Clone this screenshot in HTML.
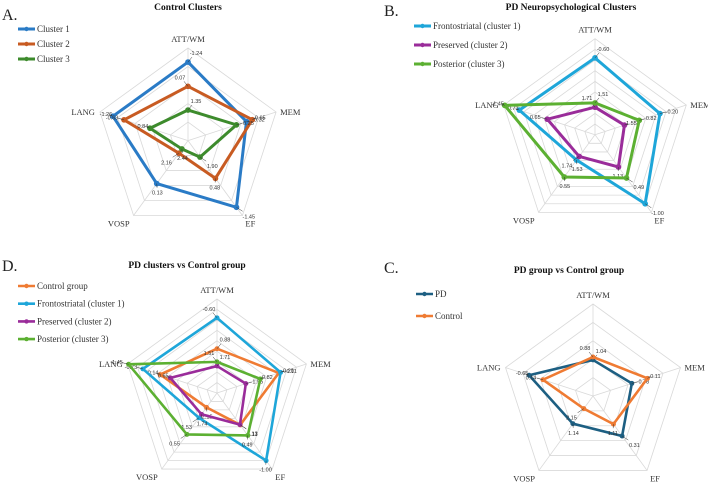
<!DOCTYPE html>
<html><head><meta charset="utf-8">
<style>
html,body{margin:0;padding:0;background:#fff;}
svg{display:block;font-family:"Liberation Serif",serif;}
.val{font-family:"Liberation Sans",sans-serif;font-size:5.5px;fill:#333;}
.ax{font-size:8.5px;fill:#333;}
.ttl{font-size:9.5px;font-weight:bold;fill:#111;}
.pl{font-size:16px;fill:#222;}
.lg{font-size:9px;fill:#333;}
</style></head>
<body>
<svg id="fig" width="708" height="483" viewBox="0 0 708 483">
  <text class="pl" x="2" y="20">A.</text>
  <text class="ttl" x="188" y="10" text-anchor="middle">Control Clusters</text>
  <text class="pl" x="384" y="16">B.</text>
  <text class="ttl" x="571" y="10" text-anchor="middle">PD Neuropsychological Clusters</text>
  <text class="pl" x="2" y="271">D.</text>
  <text class="ttl" x="187" y="268" text-anchor="middle">PD clusters vs Control group</text>
  <text class="pl" x="384" y="273">C.</text>
  <text class="ttl" x="569" y="273" text-anchor="middle">PD group vs Control group</text>
</svg>
<script>
// ---- data ----
const axesLabels = ["ATT/WM","MEM","EF","VOSP","LANG"];
// Panel A
const aNames = ["Cluster 1","Cluster 2","Cluster 3"];
const aCluster1 = [-1.24,-0.32,-1.45,0.13,-1.26];
const aCluster2 = [0.07,-0.65,0.48,2.16,-0.63];
const aCluster3 = [1.35,0.25,1.90,2.44,0.84];
// Panel B
const bNames = ["Frontostriatal (cluster 1)","Preserved (cluster 2)","Posterior (cluster 3)"];
const bFronto = [-0.60,-0.20,-1.00,1.53,-0.73];
const bPreserved = [1.71,1.55,1.13,1.74,0.65];
const bPosterior = [1.51,0.82,0.49,0.55,-1.45];
// Panel D
const dNames = ["Control group","Frontostriatal (cluster 1)","Preserved (cluster 2)","Posterior (cluster 3)"];
const dControl = [0.88,-0.11,1.11,2.15,0.14];
const dFronto = [-0.60,-0.20,-1.00,1.53,-0.73];
const dPreserved = [1.71,1.55,1.13,1.74,0.65];
const dPosterior = [1.51,0.82,0.49,0.55,-1.45];
// Panel C
const cNames = ["PD","Control"];
const cPD = [1.04,0.78,0.31,1.14,-0.65];
const cControl = [0.88,-0.11,1.11,2.15,0.14];

const NS="http://www.w3.org/2000/svg";
const svg=document.getElementById('fig');
function mk(tag,attrs,parent){const e=document.createElementNS(NS,tag);for(const k in attrs)e.setAttribute(k,attrs[k]);(parent||svg).appendChild(e);return e;}

// axis-label offsets relative to the outer vertex: [dx, dy, anchor]
const axOff=[[0,-6,'middle'],[4,3,'start'],[3,11,'start'],[-4,11,'end'],[-5,3,'end']];

function radar(p){
  const g=mk('g',{});
  
  
  const ang=i=>(-90+72*i)*Math.PI/180;
  const rScale=v=>p.R*(p.max-v)/(p.max-p.min);
  const pt=(i,r)=>[p.cx+r*Math.cos(ang(i)),p.cy+r*Math.sin(ang(i))];
  for(let k=1;k<=p.rings;k++){
    const r=p.R*k/p.rings;
    const pts=[0,1,2,3,4].map(i=>pt(i,r).join(',')).join(' ');
    const ring=mk('polygon',{points:pts,fill:'none',stroke:'#d9d9d9','stroke-width':0.8},g);
    
    
  }
  for(let i=0;i<5;i++){
    const e=pt(i,p.R);
    const sp=mk('line',{x1:p.cx,y1:p.cy,x2:e[0],y2:e[1],stroke:'#d9d9d9','stroke-width':0.8},g);
    
    
    const o=axOff[i];
    const t=mk('text',{x:e[0]+o[0],y:e[1]+o[1],'text-anchor':o[2],class:'ax'},g);
    t.textContent=axesLabels[i];
    
    
  }
  p.series.forEach((s,si)=>{
    const pts=s.values.map((v,i)=>pt(i,rScale(v)));
    const poly=mk('polygon',{points:pts.map(q=>q.join(',')).join(' '),fill:'none',stroke:s.color,'stroke-width':p.sw,'stroke-linejoin':'miter'},g);
    
    
    pts.forEach((q,i)=>{
      const c=mk('circle',{cx:q[0],cy:q[1],r:p.sw*0.95,fill:s.color},g);
      
      
      const off=10;
      const d=pt(i,rScale(s.values[i])+off);
      const lx=d[0]+(si%2?-8:8)*Math.abs(Math.sin(ang(i))), ly=d[1]+3;
      const ld=mk('line',{x1:q[0],y1:q[1],x2:(q[0]+lx)/2,y2:(q[1]+ly-3)/2,stroke:'#333','stroke-width':0.5},g);
      
      
      const t=mk('text',{x:lx,y:ly,'text-anchor':'middle',class:'val'},g);
      t.textContent=s.values[i].toFixed(2);
      
      
    });
    const ly=p.legY+si*p.legDy;
    const ll=mk('line',{x1:p.legX,y1:ly,x2:p.legX+17,y2:ly,stroke:s.color,'stroke-width':p.sw},g);
    
    
    mk('circle',{cx:p.legX+8.5,cy:ly,r:2.2,fill:s.color},g);
    const lt=mk('text',{x:p.legX+19,y:ly+3,class:'lg'},g);
    lt.textContent=s.name;
    
    
  });
}

radar({id:'panel-a',cx:188,cy:140.6,R:92.6,max:3,min:-2,rings:5,sw:3,legX:18,legY:29,legDy:15,
  series:[{name:aNames[0],values:aCluster1,color:'#2a7bc6'},{name:aNames[1],values:aCluster2,color:'#c85b22'},{name:aNames[2],values:aCluster3,color:'#3d8b2c'}]});
radar({id:'panel-b',cx:595,cy:134.7,R:96,max:3,min:-1.5,rings:9,sw:3,legX:414,legY:26,legDy:19,
  series:[{name:bNames[0],values:bFronto,color:'#1ea6d9'},{name:bNames[1],values:bPreserved,color:'#9a2c9a'},{name:bNames[2],values:bPosterior,color:'#5cb032'}]});
radar({id:'panel-d',cx:217,cy:393,R:94,max:3,min:-1.5,rings:9,sw:2.6,legX:18,legY:286,legDy:17.7,
  series:[{name:dNames[0],values:dControl,color:'#ef7b33'},{name:dNames[1],values:dFronto,color:'#1ea6d9'},{name:dNames[2],values:dPreserved,color:'#9a2c9a'},{name:dNames[3],values:dPosterior,color:'#5cb032'}]});
radar({id:'panel-c',cx:593,cy:396,R:92,max:3,min:-2,rings:5,sw:2.6,legX:416,legY:294,legDy:22,
  series:[{name:cNames[0],values:cPD,color:'#1d5f82'},{name:cNames[1],values:cControl,color:'#ef7b33'}]});
</script>
</body></html>
